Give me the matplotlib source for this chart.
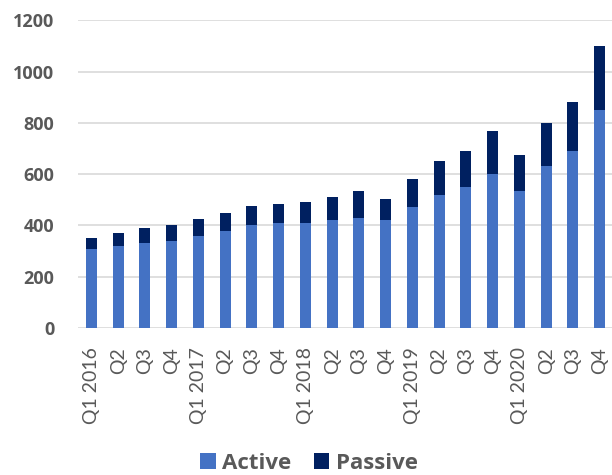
import numpy as np
import matplotlib.pyplot as plt

plt.rcParams['font.family'] = ['Lato', 'DejaVu Sans']

labels = ['Q1 2016', 'Q2', 'Q3', 'Q4',
          'Q1 2017', 'Q2', 'Q3', 'Q4',
          'Q1 2018', 'Q2', 'Q3', 'Q4',
          'Q1 2019', 'Q2', 'Q3', 'Q4',
          'Q1 2020', 'Q2', 'Q3', 'Q4']
active = [310, 320, 330, 340, 360, 380, 400, 410, 410, 420,
          430, 420, 470, 520, 550, 600, 535, 630, 690, 850]
total = [350, 370, 390, 400, 425, 450, 475, 485, 490, 510,
         535, 505, 580, 650, 690, 770, 675, 800, 880, 1100]
passive = [t - a for t, a in zip(total, active)]

fig = plt.figure(figsize=(6.12, 4.75), dpi=100)
ax = fig.add_axes([78 / 612, 147 / 475, 535 / 612, 307.7 / 475])

x = np.arange(len(labels))
ax.bar(x, active, width=0.41, color='#4472C4', label='Active', zorder=3)
ax.bar(x, passive, width=0.41, bottom=active, color='#002060',
       label='Passive', zorder=3)

ax.set_xlim(-0.5, len(labels) - 0.5)
ax.set_ylim(0, 1200)
ax.set_yticks(range(0, 1201, 200))
ax.yaxis.grid(True, color='#d9d9d9', linewidth=1.2, zorder=0)
for s in ax.spines.values():
    s.set_visible(False)
ax.tick_params(length=0)
ax.tick_params(axis='y', pad=17, labelsize=13, labelcolor='#595959')
for t in ax.get_yticklabels():
    t.set_fontfamily('Open Sans')
    t.set_fontweight('bold')
ax.set_xticks(x)
ax.set_xticklabels(labels, rotation=90, fontsize=14, color='#595959')
ax.tick_params(axis='x', pad=14)

fig.legend(*ax.get_legend_handles_labels(), loc='center',
           bbox_to_anchor=(0.505, 0.025), ncol=2,
           frameon=False, handlelength=0.7, handleheight=0.7,
           handletextpad=0.3, columnspacing=1.0,
           prop={'family': 'Open Sans', 'size': 16, 'weight': 'bold'},
           labelcolor='#595959')

fig.savefig('out.png', dpi=100)
